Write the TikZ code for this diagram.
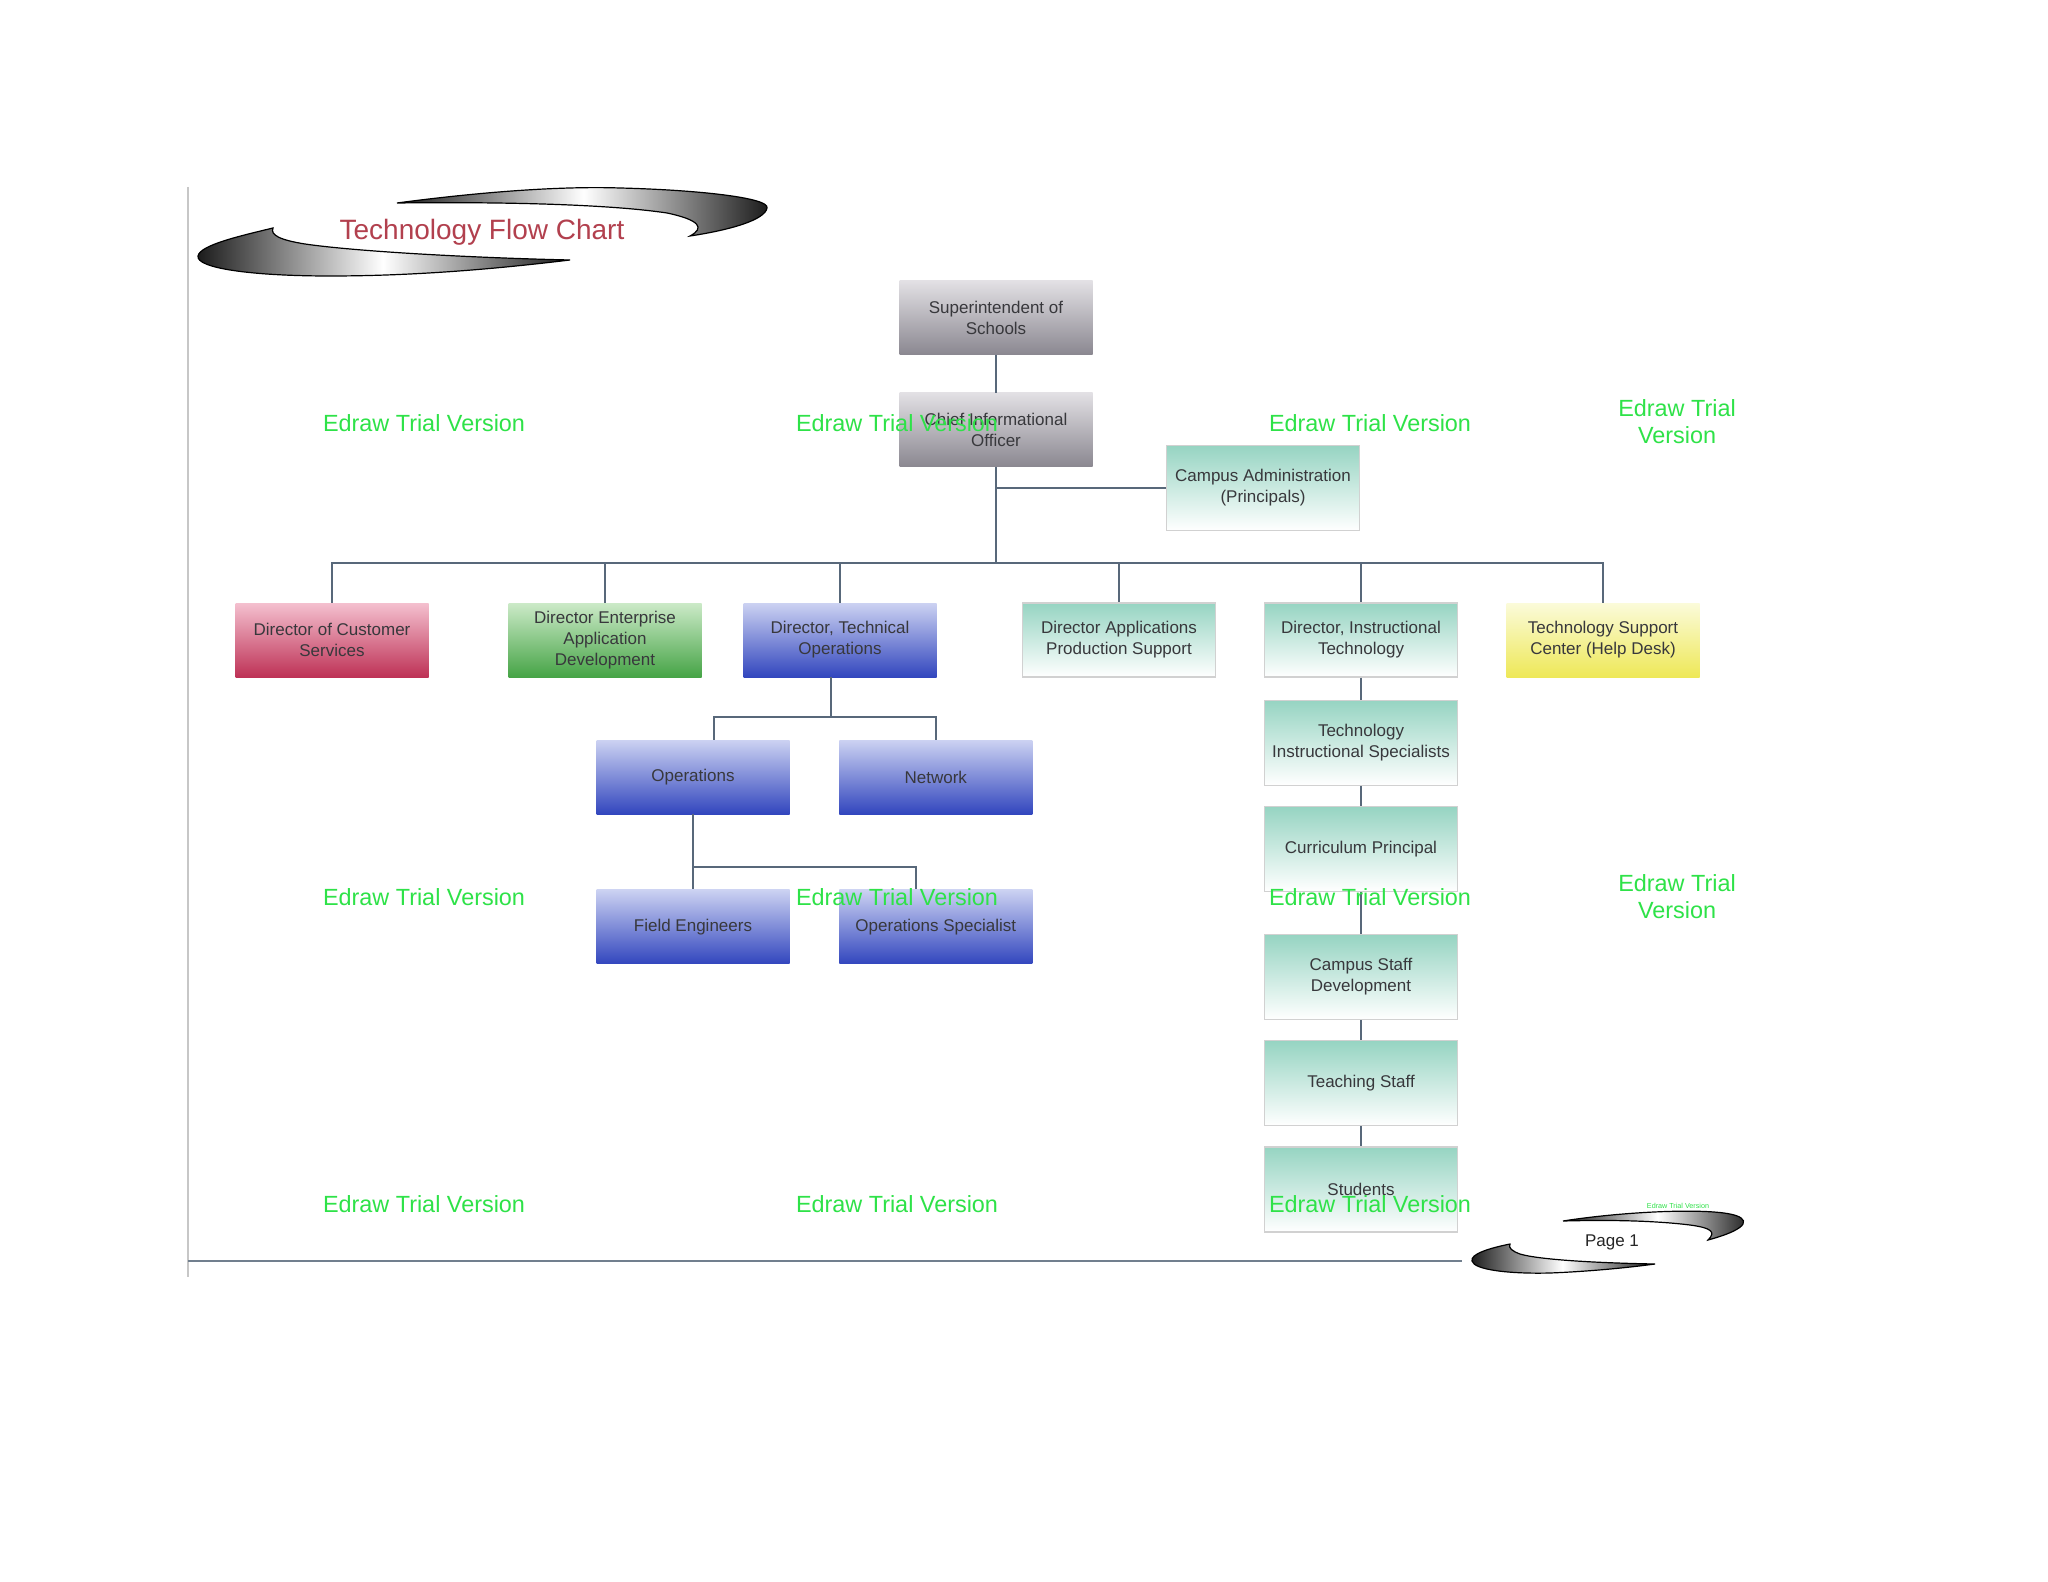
\documentclass[tikz,border=0pt]{standalone}
\usepackage{fontspec}
\setmainfont{Liberation Sans}
\usetikzlibrary{positioning}
\definecolor{greyTop}{RGB}{226,224,228}
\definecolor{greyBot}{RGB}{138,135,144}
\definecolor{tealTop}{RGB}{150,212,194}
\definecolor{redTop}{RGB}{244,192,207}
\definecolor{redBot}{RGB}{190,50,86}
\definecolor{greenTop}{RGB}{204,234,200}
\definecolor{greenBot}{RGB}{70,164,70}
\definecolor{blueTop}{RGB}{204,210,242}
\definecolor{blueBot}{RGB}{50,70,190}
\definecolor{yellowTop}{RGB}{251,251,218}
\definecolor{yellowBot}{RGB}{238,232,88}
\definecolor{linkcol}{RGB}{88,104,122}
\definecolor{trialgreen}{RGB}{46,226,72}
\definecolor{titlered}{RGB}{178,64,78}
\definecolor{boxtext}{RGB}{56,56,60}

\begin{document}
\begin{tikzpicture}[x=0.5pt, y=-0.5pt,
    box/.style={rectangle, inner sep=0pt, minimum width=96.5pt, minimum height=37pt, align=center, text=boxtext, font=\fontsize{8.5}{10.5}\selectfont},
    tallbox/.style={box, minimum height=42.5pt},
    greybox/.style={top color=greyTop, bottom color=greyBot},
    tealbox/.style={draw=black!18, line width=0.6pt, top color=tealTop, bottom color=white},
    redbox/.style={top color=redTop, bottom color=redBot},
    greenbox/.style={top color=greenTop, bottom color=greenBot},
    bluebox/.style={top color=blueTop, bottom color=blueBot},
    yellowbox/.style={top color=yellowTop, bottom color=yellowBot},
    link/.style={draw=linkcol, line width=1pt},
    trial/.style={text=trialgreen, font=\fontsize{11.7}{13.5}\selectfont, align=center},
    swoosh/.style={draw=black, line width=0.6pt, left color=black!90, right color=black!90, middle color=white}]

\fill[white] (0,0) rectangle (2048,1582);

\path[swoosh] (397,203) .. controls (480,192) and (560,186) .. (620,188) .. controls (700,190) and (770,198) .. (767,208) .. controls (765,220) and (730,230) .. (690,236) .. controls (705,228) and (700,220) .. (667,213) .. controls (600,203) and (480,202) .. (397,203) -- cycle;
\path[swoosh] (273,228) .. controls (240,236) and (200,245) .. (198,256) .. controls (196,268) and (250,276) .. (330,276) .. controls (430,276) and (520,266) .. (570,260) .. controls (480,258) and (360,252) .. (305,244) .. controls (280,240) and (270,235) .. (273,228) -- cycle;
\node[text=titlered, font=\fontsize{14}{16}\selectfont, anchor=base] (title) at (482,240) {Technology Flow Chart};

\path[swoosh] (1563,1221) .. controls (1620,1212) and (1700,1208) .. (1730,1214) .. controls (1750,1218) and (1752,1228) .. (1708,1240) .. controls (1716,1232) and (1712,1228) .. (1690,1225) .. controls (1650,1220) and (1600,1220) .. (1563,1221) -- cycle;
\path[swoosh] (1510,1244) .. controls (1490,1248) and (1470,1254) .. (1472,1261) .. controls (1474,1270) and (1510,1274) .. (1550,1273) .. controls (1600,1271) and (1640,1266) .. (1655,1264) .. controls (1600,1263) and (1540,1260) .. (1520,1254) .. controls (1512,1251) and (1508,1248) .. (1510,1244) -- cycle;
\node[font=\fontsize{8.5}{10}\selectfont, text=black!85] (pagenum) at (1612,1242) {Page 1};

\draw[black!22, line width=1.2pt] (188,187) -- (188,1277);
\draw[linkcol!85, line width=1pt] (188,1261) -- (1462,1261);

\node[box, greybox] (super) at (996,318) {Superintendent of\\Schools};
\node[box, greybox] (cio) at (996,430) {Chief Informational\\Officer};
\node[tallbox, tealbox] (admin) at (1263,488) {Campus Administration\\(Principals)};

\node[box, redbox] (custsvc) at (332,640) {Director of Customer\\Services};
\node[box, greenbox] (entapp) at (605,640) {Director Enterprise\\Application\\Development};
\node[box, bluebox] (techops) at (840,640) {Director, Technical\\Operations};
\node[box, tealbox] (appsup) at (1119,640) {Director Applications\\Production Support};
\node[box, tealbox] (instr) at (1361,640) {Director, Instructional\\Technology};
\node[box, yellowbox] (helpdesk) at (1603,640) {Technology Support\\Center (Help Desk)};

\node[box, bluebox] (ops) at (693,777) {Operations};
\node[box, bluebox, right=24.5pt of ops] (network) {Network};
\node[box, bluebox, below=37.5pt of ops] (fieldeng) {Field Engineers};
\node[box, bluebox, below=37.5pt of network] (opsspec) {Operations Specialist};

\node[tallbox, tealbox, below=11pt of instr] (techspec) {Technology\\Instructional Specialists};
\node[tallbox, tealbox, below=10pt of techspec] (currprin) {Curriculum Principal};
\node[tallbox, tealbox, below=21pt of currprin] (staffdev) {Campus Staff\\Development};
\node[tallbox, tealbox, below=10pt of staffdev] (teaching) {Teaching Staff};
\node[tallbox, tealbox, below=10pt of teaching] (students) {Students};

\coordinate (bus) at (996,563);
\coordinate (opsbus) at (831,717);
\coordinate (fieldbus) at (693,867);

\draw[link] (super) -- (cio);
\draw[link] (cio) -- (bus);
\draw[link] (cio.south |- admin.west) -- (admin.west);
\foreach \n in {custsvc,entapp,techops,appsup,instr,helpdesk}
  \draw[link] (bus) -| (\n.north);

\draw[link] (techops.south -| opsbus) -- (opsbus);
\draw[link] (opsbus) -| ([xshift=10.5pt]ops.north);
\draw[link] (opsbus) -| (network.north);
\draw[link] (ops) -- (fieldeng);
\draw[link] (fieldbus) -| ([xshift=-10pt]opsspec.north);

\draw[link] (instr) -- (techspec);
\draw[link] (techspec) -- (currprin);
\draw[link] (currprin) -- (staffdev);
\draw[link] (staffdev) -- (teaching);
\draw[link] (teaching) -- (students);

\foreach \x/\y in {424/423,897/423,1370/423,424/897,897/897,1370/897,424/1204,897/1204,1370/1204}
  \node[trial] (wm-\x-\y) at (\x,\y) {Edraw Trial Version};
\node[trial] (wm-top) at (1677,422) {Edraw Trial\\Version};
\node[trial] (wm-mid) at (1677,897) {Edraw Trial\\Version};
\node[text=trialgreen, font=\fontsize{3.6}{4}\selectfont] (wm-tiny) at (1678,1206) {Edraw Trial Version};

\end{tikzpicture}
\end{document}
